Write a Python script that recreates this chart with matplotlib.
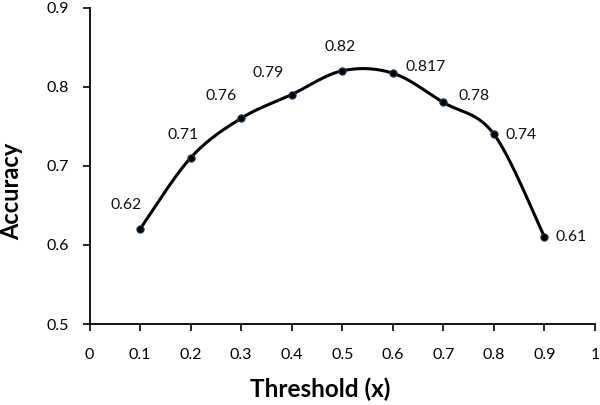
import numpy as np
import matplotlib
matplotlib.use("Agg")
import matplotlib.pyplot as plt

plt.rcParams['font.family'] = ['Lato', 'DejaVu Sans']

thresholds = [0.1, 0.2, 0.3, 0.4, 0.5, 0.6, 0.7, 0.8, 0.9]
accuracy = [0.62, 0.71, 0.76, 0.79, 0.82, 0.817, 0.78, 0.74, 0.61]
labels = ["0.62", "0.71", "0.76", "0.79", "0.82", "0.817", "0.78", "0.74", "0.61"]
# label offsets in pixels (dx, dy up)
offsets_px = [(-13.5, 24), (-8, 23), (-20, 22), (-24, 22), (-2, 23.5), (33, 6), (31, 6.5), (27, -1), (26.5, -0.5)]


def catmull_rom(xs, ys, n=40):
    x = np.asarray(xs, float)
    y = np.asarray(ys, float)
    px = np.concatenate([[x[0]], x, [x[-1]]])
    py = np.concatenate([[y[0]], y, [y[-1]]])
    outx, outy = [], []
    t = np.linspace(0, 1, n)
    for i in range(1, len(px) - 2):
        p0 = np.array([px[i], py[i]])
        p3 = np.array([px[i + 1], py[i + 1]])
        c1 = p0 + (np.array([px[i + 1], py[i + 1]]) - np.array([px[i - 1], py[i - 1]])) / 6
        c2 = p3 - (np.array([px[i + 2], py[i + 2]]) - np.array([px[i], py[i]])) / 6
        b = ((1 - t) ** 3)[:, None] * p0 + (3 * (1 - t) ** 2 * t)[:, None] * c1 + \
            (3 * (1 - t) * t ** 2)[:, None] * c2 + (t ** 3)[:, None] * p3
        outx.extend(b[:, 0])
        outy.extend(b[:, 1])
    return np.array(outx), np.array(outy)


W, H = 600, 405
left, right, top, bottom = 89.5, 595, 7.5, 324
fig = plt.figure(figsize=(6, 4.05), dpi=100)
ax = fig.add_axes([left / W, 1 - bottom / H, (right - left) / W, (bottom - top) / H])

sx, sy = catmull_rom(thresholds, accuracy)
ax.plot(sx, sy, color='black', lw=2.2, zorder=2, solid_capstyle='round')
ax.plot(thresholds, accuracy, 'o', color='black', markersize=5.2,
        markeredgecolor='#1f3a5a', markeredgewidth=0.8, zorder=3)

for x, y, lab, (dx, dy) in zip(thresholds, accuracy, labels, offsets_px):
    ax.annotate(lab, (x, y), xytext=(dx * 0.72, dy * 0.72), textcoords='offset points',
                ha='center', va='center', fontsize=11.3, color='#111111')

ax.set_xlim(0, 1)
ax.set_ylim(0.5, 0.9)
ax.set_xticks(np.arange(0, 1.01, 0.1))
ax.set_xticklabels(["0", "0.1", "0.2", "0.3", "0.4", "0.5", "0.6", "0.7", "0.8", "0.9", "1"])
ax.set_yticks([0.5, 0.6, 0.7, 0.8, 0.9])
ax.set_yticklabels(["0.5", "0.6", "0.7", "0.8", "0.9"])
ax.tick_params(axis='both', direction='out', length=5, width=1.2, labelsize=11.5,
               colors='black')
ax.tick_params(axis='x', pad=12)
ax.tick_params(axis='y', pad=9.5)
for s in ['top', 'right']:
    ax.spines[s].set_visible(False)
for s in ['left', 'bottom']:
    ax.spines[s].set_linewidth(1.3)

fig.text(320 / W, 1 - 389 / H, "Threshold (x)", fontsize=17.5, fontweight='bold',
         ha='center', va='center')
fig.text(12 / W, 1 - 191 / H, "Accuracy", fontsize=17, fontweight='bold',
         ha='center', va='center', rotation=90)

fig.savefig("out.png", dpi=100)
